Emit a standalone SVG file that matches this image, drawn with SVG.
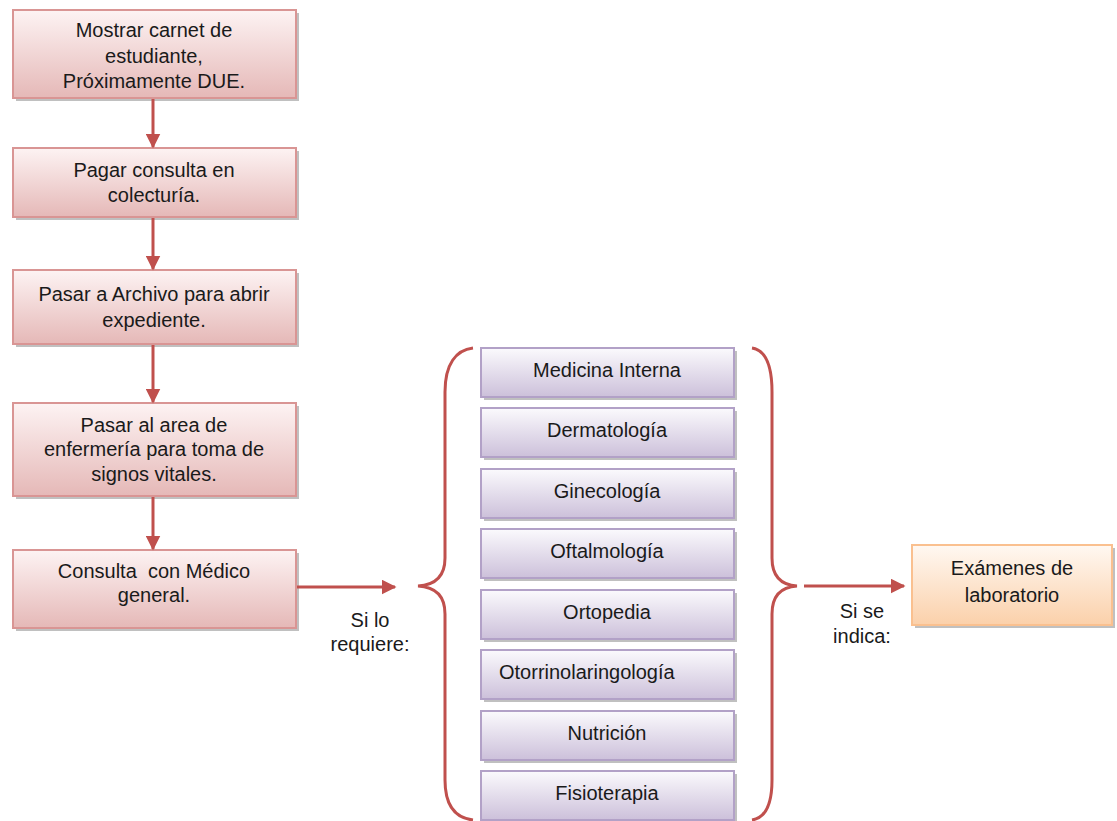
<svg xmlns="http://www.w3.org/2000/svg" width="1117" height="821" viewBox="0 0 1117 821">
<style>
text{font-family:"Liberation Sans",Arial,sans-serif;font-size:20px;fill:#1a1a1a;text-anchor:middle}
.red rect.b{fill:url(#gr);stroke:#d99594;stroke-width:2}
.pur rect.b{fill:url(#gp);stroke:#b2a1c7;stroke-width:2}
.ora rect.b{fill:url(#go);stroke:#fac08f;stroke-width:2}
rect.s{fill:#8c8c8c;opacity:0.55}
.conn line{stroke:#c0504d;stroke-width:3}
.conn path.br{fill:none;stroke:#c0504d;stroke-width:3}
</style>
<defs>
<linearGradient id="gr" x1="0" y1="0" x2="0" y2="1"><stop offset="0" stop-color="#fdf3f3"/><stop offset="1" stop-color="#e5b8b7"/></linearGradient>
<linearGradient id="gp" x1="0" y1="0" x2="0" y2="1"><stop offset="0" stop-color="#fbfafd"/><stop offset="1" stop-color="#ccc0da"/></linearGradient>
<linearGradient id="go" x1="0" y1="0" x2="0" y2="1"><stop offset="0" stop-color="#fff8f2"/><stop offset="1" stop-color="#fbd0aa"/></linearGradient>
<marker id="ah" markerWidth="5" markerHeight="5" refX="4.5" refY="2.5" orient="auto" markerUnits="strokeWidth"><path d="M0,0 L5,2.5 L0,5 z" fill="#c0504d"/></marker>
</defs>

<g id="n1" class="red"><rect class="s" x="16" y="13" width="283" height="88"/><rect class="b" x="13" y="10" width="283" height="88"/>
<text x="154" y="37">Mostrar carnet de</text><text x="154" y="63">estudiante,</text><text x="154" y="88">Próximamente DUE.</text></g>
<g id="n2" class="red"><rect class="s" x="16" y="151" width="283" height="69"/><rect class="b" x="13" y="148" width="283" height="69"/>
<text x="154" y="177">Pagar consulta en</text><text x="154" y="202">colecturía.</text></g>
<g id="n3" class="red"><rect class="s" x="16" y="273" width="283" height="74"/><rect class="b" x="13" y="270" width="283" height="74"/>
<text x="154" y="301">Pasar a Archivo para abrir</text><text x="154" y="327">expediente.</text></g>
<g id="n4" class="red"><rect class="s" x="16" y="406" width="283" height="93"/><rect class="b" x="13" y="403" width="283" height="93"/>
<text x="154" y="432">Pasar al area de</text><text x="154" y="456">enfermería para toma de</text><text x="154" y="481">signos vitales.</text></g>
<g id="n5" class="red"><rect class="s" x="16" y="553" width="283" height="78"/><rect class="b" x="13" y="550" width="283" height="78"/>
<text x="154" y="578" xml:space="preserve" style="white-space:pre">Consulta  con Médico</text><text x="154" y="602">general.</text></g>

<g id="p1" class="pur"><rect class="s" x="484" y="351" width="253" height="49"/><rect class="b" x="481" y="348" width="253" height="49"/><text x="607" y="377">Medicina Interna</text></g>
<g id="p2" class="pur"><rect class="s" x="484" y="411" width="253" height="49"/><rect class="b" x="481" y="408" width="253" height="49"/><text x="607" y="437">Dermatología</text></g>
<g id="p3" class="pur"><rect class="s" x="484" y="472" width="253" height="49"/><rect class="b" x="481" y="469" width="253" height="49"/><text x="607" y="498">Ginecología</text></g>
<g id="p4" class="pur"><rect class="s" x="484" y="532" width="253" height="49"/><rect class="b" x="481" y="529" width="253" height="49"/><text x="607" y="558">Oftalmología</text></g>
<g id="p5" class="pur"><rect class="s" x="484" y="593" width="253" height="49"/><rect class="b" x="481" y="590" width="253" height="49"/><text x="607" y="619">Ortopedia</text></g>
<g id="p6" class="pur"><rect class="s" x="484" y="653" width="253" height="49"/><rect class="b" x="481" y="650" width="253" height="49"/><text x="499" y="679" style="text-anchor:start">Otorrinolaringología</text></g>
<g id="p7" class="pur"><rect class="s" x="484" y="714" width="253" height="49"/><rect class="b" x="481" y="711" width="253" height="49"/><text x="607" y="740">Nutrición</text></g>
<g id="p8" class="pur"><rect class="s" x="484" y="774" width="253" height="49"/><rect class="b" x="481" y="771" width="253" height="49"/><text x="607" y="800">Fisioterapia</text></g>

<g id="lab" class="ora"><rect class="s" x="915" y="548" width="200" height="80"/><rect class="b" x="912" y="545" width="200" height="80"/>
<text x="1012" y="575">Exámenes de</text><text x="1012" y="602">laboratorio</text></g>

<g id="connectors" class="conn">
<line x1="153" y1="99" x2="153" y2="147" marker-end="url(#ah)"/>
<line x1="153" y1="218" x2="153" y2="269" marker-end="url(#ah)"/>
<line x1="153" y1="345" x2="153" y2="402" marker-end="url(#ah)"/>
<line x1="153" y1="497" x2="153" y2="549" marker-end="url(#ah)"/>
<line x1="297" y1="587" x2="395" y2="587" marker-end="url(#ah)"/>
<line x1="804" y1="586" x2="904" y2="586" marker-end="url(#ah)"/>
<path class="br" d="M473,348 C456,350 445,364 445,392 L445,558 C445,576 436,585 418,586 C436,587 445,596 445,614 L445,780 C445,806 456,818 473,820"/>
<path class="br" d="M752,348 C765,350 772,364 772,392 L772,558 C772,576 781,585 797,586 C781,587 772,596 772,614 L772,780 C772,806 765,818 752,820"/>
</g>
<g id="labels">
<text x="370" y="627">Si lo</text><text x="370" y="651">requiere:</text>
<text x="862" y="618">Si se</text><text x="862" y="643">indica:</text>
</g>
</svg>
